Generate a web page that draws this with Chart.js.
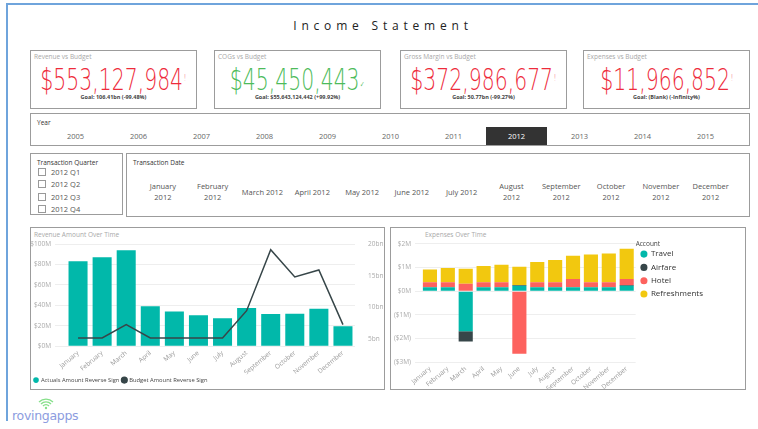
<!DOCTYPE html>
<html lang="en">
<head>
<meta charset="UTF-8">
<title>Income Statement</title>
<script src="https://cdn.jsdelivr.net/npm/chart.js"></script>
<style>
  body { margin:0; width:758px; height:429px; background:#fff; position:relative; overflow:hidden; font-family:"Open Sans", sans-serif; }
  .frame-top { position:absolute; left:6px; top:3px; width:752px; height:2px; background:#6fa4dc; }
  .frame-left { position:absolute; left:6px; top:3px; width:2px; height:418px; background:#6fa4dc; }
  .title { position:absolute; top:17px; left:4px; width:758px; text-align:center; font-size:12px; letter-spacing:4.8px; color:#222; }
  .box { position:absolute; border:1px solid #9c9c9c; box-sizing:border-box; background:#fff; }
  .box-title { position:absolute; left:3px; top:1px; font-size:6.5px; color:#a8a8a8; white-space:nowrap; }
  .slicer-title { position:absolute; left:6px; top:4px; font-size:6.5px; color:#333; white-space:nowrap; }
  .kpi-num { position:absolute; left:0; right:0; top:13px; height:31px; display:flex; justify-content:center; white-space:nowrap; }
  .kpi-num span.v { display:block; flex:none; font-family:"DejaVu Sans ExtraLight", "DejaVu Sans Light", "DejaVu Sans", sans-serif; font-weight:200; font-size:30px; line-height:31px; transform:scaleX(0.68); transform-origin:center; }
  .kpi-num span.m { position:relative; top:-9px; font-size:9px; line-height:0; margin-left:1px; }
  .kpi-goal { position:absolute; left:0; right:0; top:42px; text-align:center; font-size:5.5px; font-weight:bold; color:#444; white-space:nowrap; }
  .years { position:absolute; left:13px; top:13px; display:flex; }
  .years div { width:63px; height:18px; line-height:18px; text-align:center; font-size:7.5px; color:#666; }
  .years div.sel { background:#333; color:#fff; margin:0 1px; width:61px; }
  .quarters { position:absolute; left:7px; top:12px; }
  .quarters div { height:12.3px; font-size:7.5px; color:#555; display:flex; align-items:center; }
  .quarters i { display:inline-block; width:6px; height:6px; border:1px solid #999; margin-right:5px; }
  .dates { position:absolute; left:11px; top:26px; display:flex; align-items:center; height:24px; }
  .dates div { width:49.8px; text-align:center; font-size:7.5px; line-height:11px; color:#555; }
  canvas { position:absolute; }
  .logo { position:absolute; left:11px; top:398px; width:80px; height:28px; }
</style>
</head>
<body>
<div class="frame-top"></div>
<div class="frame-left"></div>
<div class="title">Income Statement</div>
<div id="kpis"></div>

<div class="box" style="left:30px; top:113px; width:720px; height:33px;">
  <div class="slicer-title">Year</div>
  <div class="years" id="years"></div>
</div>

<div class="box" style="left:30px; top:153px; width:93px; height:62px;">
  <div class="slicer-title">Transaction Quarter</div>
  <div class="quarters" id="quarters"></div>
</div>

<div class="box" style="left:126px; top:153px; width:624px; height:64px;">
  <div class="slicer-title">Transaction Date</div>
  <div class="dates" id="dates"></div>
</div>

<div class="box" style="left:30px; top:227px; width:355px; height:163px;">
  <div class="box-title" style="top:2px;">Revenue Amount Over Time</div>
</div>
<canvas id="revChart" width="352" height="157" style="left:31px; top:236px;"></canvas>

<div class="box" style="left:390px; top:227px; width:356px; height:163px;">
  <div class="box-title" style="left:34px; top:2px;">Expenses Over Time</div>
</div>
<canvas id="expChart" width="353" height="153" style="left:391px; top:236px;"></canvas>

<div class="logo">
  <svg width="80" height="28" viewBox="0 0 80 28">
    <g fill="none" stroke="#86e08a" stroke-width="1.3">
      <path d="M30 6 a7 7 0 0 1 10 0"/>
      <path d="M32 8 a4 4 0 0 1 6 0"/>
      <path d="M28 4 a10 10 0 0 1 14 0"/>
    </g>
    <circle cx="35" cy="10" r="1.2" fill="#86e08a"/>
    <text x="1" y="22" font-family="DejaVu Sans" font-size="12.5" fill="#8c9ce0" letter-spacing="-0.3">rovingapps</text>
  </svg>
</div>

<script>
  // KPI cards
  const kpiTitles = ['Revenue vs Budget', 'COGs vs Budget', 'Gross Margin vs Budget', 'Expenses vs Budget'];
  const kpiValues = ['$553,127,984', '$45,450,443', '$372,986,677', '$11,966,852'];
  const kpiGoals = ['Goal: 106.41bn (-99.48%)', 'Goal: $55,643,124,442 (+99.92%)', 'Goal: 50.77bn (-99.27%)', 'Goal: (Blank) (-Infinity%)'];
  const kpiGood = [false, true, false, false];
  const kpiLeft = [30, 214, 400, 583];

  // slicers
  const years = ['2005', '2006', '2007', '2008', '2009', '2010', '2011', '2012', '2013', '2014', '2015'];
  const selectedYear = '2012';
  const quarters = ['2012 Q1', '2012 Q2', '2012 Q3', '2012 Q4'];
  const dateItems = [['January', '2012'], ['February', '2012'], ['March 2012'], ['April 2012'], ['May 2012'], ['June 2012'],
    ['July 2012'], ['August', '2012'], ['September', '2012'], ['October', '2012'], ['November', '2012'], ['December', '2012']];

  // charts
  const months = ['January', 'February', 'March', 'April', 'May', 'June', 'July', 'August', 'September', 'October', 'November', 'December'];
  const actuals = [83, 87, 94, 39, 34, 30.4, 27.4, 37.3, 31.4, 31.7, 36.6, 19.5];   // $M
  const budget = [5.2, 5.2, 7.3, 5.2, 5.2, 5.2, 5.2, 9.5, 19.1, 14.8, 15.9, 7.3];   // bn
  const budgetTicks = [5, 10, 15, 20];
  const travel = [0.16, 0.16, -1.70, 0.16, 0.16, 0.23, 0.16, 0.16, 0.16, 0.16, 0.16, 0.23];       // $M
  const airfare = [0, 0, -0.43, 0, 0, 0.03, 0, 0, 0, 0, 0, 0.03];
  const hotel = [0.22, 0.22, 0.31, 0.22, 0.22, -2.65, 0.22, 0.22, 0.35, 0.22, 0.22, 0.25];
  const refreshments = [0.54, 0.60, 0.64, 0.68, 0.74, 0.77, 0.85, 0.94, 0.99, 1.17, 1.21, 1.28];

  let html = '';
  kpiTitles.forEach((t, i) => {
    const col = kpiGood[i] ? '#4dbb5a' : '#ee2b3b';
    const mark = kpiGood[i] ? '<span class="m" style="top:-3px;font-size:8px;">&#10003;</span>' : '<span class="m">!</span>';
    html += '<div class="box" style="left:' + kpiLeft[i] + 'px; top:50px; width:167px; height:59px;">' +
      '<div class="box-title">' + t + '</div>' +
      '<div class="kpi-num" style="color:' + col + '"><span class="v">' + kpiValues[i] + mark + '</span></div>' +
      '<div class="kpi-goal">' + kpiGoals[i] + '</div></div>';
  });
  document.getElementById('kpis').innerHTML = html;

  document.getElementById('years').innerHTML = years.map(y =>
    '<div' + (y === selectedYear ? ' class="sel"' : '') + '>' + y + '</div>').join('');
  document.getElementById('quarters').innerHTML = quarters.map(q => '<div><i></i>' + q + '</div>').join('');
  document.getElementById('dates').innerHTML = dateItems.map(d => '<div>' + d.join('<br>') + '</div>').join('');

  Chart.defaults.font.family = '"Open Sans", sans-serif';
  Chart.defaults.color = '#999';
  const tickFont = { size: 6.5 };

  new Chart(document.getElementById('revChart'), {
    type: 'bar',
    data: {
      labels: months,
      datasets: [
        { type: 'bar', label: 'Actuals Amount Reverse Sign', data: actuals, backgroundColor: '#01b8aa',
          yAxisID: 'y', order: 2, categoryPercentage: 0.79, barPercentage: 1 },
        { type: 'line', label: 'Budget Amount Reverse Sign', data: budget, borderColor: '#374649',
          backgroundColor: '#374649', borderWidth: 1.5, pointRadius: 0, yAxisID: 'y1', order: 1 }
      ]
    },
    options: {
      responsive: false,
      animation: false,
      layout: { padding: { top: 8, left: 0, right: 0, bottom: 0 } },
      plugins: {
        tooltip: { enabled: false },
        legend: {
          position: 'bottom', align: 'start',
          labels: { usePointStyle: true, pointStyle: 'circle', boxWidth: 4, boxHeight: 4, padding: 3,
            font: { size: 5.8 }, color: '#444', sort: (a, b) => a.datasetIndex - b.datasetIndex }
        }
      },
      scales: {
        x: {
          grid: { display: false, drawTicks: false }, border: { display: false },
          ticks: { minRotation: 40, maxRotation: 40, font: tickFont, color: '#999', padding: 3 },
          afterFit: s => { s.height = 28; }
        },
        y: {
          position: 'left', min: 0, max: 100,
          ticks: { stepSize: 20, callback: v => '$' + v + 'M', font: tickFont, color: '#aaa', padding: 4 },
          grid: { color: '#eeeeee', tickColor: '#eeeeee', tickLength: 11 }, border: { display: false },
          afterFit: s => { s.width = 35; }
        },
        y1: {
          position: 'right', min: 3.9, max: 20,
          afterBuildTicks: s => { s.ticks = budgetTicks.map(v => ({ value: v })); },
          ticks: { callback: v => v + 'bn', font: tickFont, color: '#aaa', padding: 4 },
          grid: { display: false, tickLength: 9 }, border: { display: false },
          afterFit: s => { s.width = 28; }
        }
      }
    }
  });

  new Chart(document.getElementById('expChart'), {
    type: 'bar',
    data: {
      labels: months,
      datasets: [
        { label: 'Travel', data: travel, backgroundColor: '#01b8aa' },
        { label: 'Airfare', data: airfare, backgroundColor: '#374649' },
        { label: 'Hotel', data: hotel, backgroundColor: '#fd625e' },
        { label: 'Refreshments', data: refreshments, backgroundColor: '#f2c80f' }
      ]
    },
    options: {
      responsive: false,
      animation: false,
      datasets: { bar: { categoryPercentage: 0.79, barPercentage: 1 } },
      layout: { padding: { top: 4, left: 0, right: 31, bottom: 0 } },
      plugins: {
        tooltip: { enabled: false },
        legend: {
          position: 'right', align: 'start',
          title: { display: true, text: 'Account', position: 'start', color: '#444', font: { size: 6.5 }, padding: { top: 1, bottom: -4 } },
          labels: { usePointStyle: true, pointStyle: 'circle', boxWidth: 6, boxHeight: 5, padding: 5.3,
            font: { size: 8 }, color: '#333' }
        }
      },
      scales: {
        x: {
          stacked: true, grid: { display: false, drawTicks: false }, border: { display: false },
          ticks: { minRotation: 40, maxRotation: 40, font: tickFont, color: '#999', padding: 3 },
          afterFit: s => { s.height = 27; }
        },
        y: {
          stacked: true, min: -3, max: 2,
          ticks: { stepSize: 1, font: tickFont, color: '#aaa', padding: 4,
            callback: v => v < 0 ? '($' + (-v) + 'M)' : '$' + v + 'M' },
          grid: { color: '#eeeeee', tickColor: '#eeeeee', tickLength: 6 }, border: { display: false },
          afterFit: s => { s.width = 30; }
        }
      }
    }
  });
</script>
</body>
</html>
